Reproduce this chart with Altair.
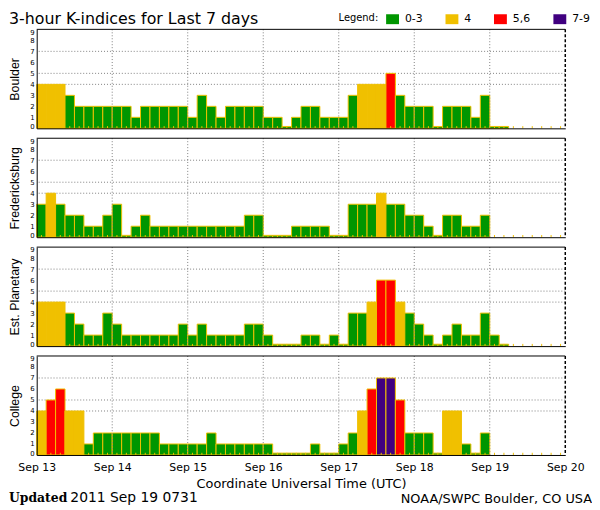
import json
import altair as alt
import pandas as pd

# ---------------- data ----------------
TITLE = "3-hour K-indices for Last 7 days"
STATIONS = ["Boulder", "Fredericksburg", "Est. Planetary", "College"]
BOULDER = [4, 4, 4, 3, 2, 2, 2, 2,
           2, 2, 1, 2, 2, 2, 2, 2,
           1, 3, 2, 1, 2, 2, 2, 2,
           1, 1, 0, 1, 2, 2, 1, 1,
           1, 3, 4, 4, 4, 5, 3, 2,
           2, 2, 0, 2, 2, 2, 1, 3,
           0, 0]
FREDERICKSBURG = [3, 4, 3, 2, 2, 1, 1, 2,
                  3, 0, 1, 2, 1, 1, 1, 1,
                  1, 1, 1, 1, 1, 1, 2, 2,
                  0, 0, 0, 1, 1, 1, 1, 0,
                  0, 3, 3, 3, 4, 3, 3, 2,
                  2, 1, 0, 2, 2, 1, 1, 2]
EST_PLANETARY = [4, 4, 4, 3, 2, 1, 1, 3,
                 2, 1, 1, 1, 1, 1, 1, 2,
                 1, 2, 1, 1, 1, 1, 2, 2,
                 1, 0, 0, 0, 1, 1, 0, 1,
                 0, 3, 3, 4, 6, 6, 4, 3,
                 2, 1, 0, 1, 2, 1, 1, 3,
                 1, 0]
COLLEGE = [4, 5, 6, 4, 4, 1, 2, 2,
           2, 2, 2, 2, 2, 1, 1, 1,
           1, 1, 2, 1, 1, 1, 1, 1,
           1, 0, 0, 0, 0, 1, 0, 0,
           1, 2, 4, 6, 7, 7, 5, 2,
           2, 2, 0, 4, 4, 1, 0, 2]
SERIES = [BOULDER, FREDERICKSBURG, EST_PLANETARY, COLLEGE]
DAY_LABELS = ["Sep 13", "Sep 14", "Sep 15", "Sep 16", "Sep 17", "Sep 18", "Sep 19", "Sep 20"]
Y_TICKS = [0, 1, 2, 3, 4, 5, 6, 7, 8, 9]
GRID_LEVELS = [4, 5, 7]
CATEGORIES = ["0-3", "4", "5,6", "7-9"]
CAT_COLORS = ["#009600", "#F0C000", "#FF0000", "#400080"]
LEGEND_TITLE = "Legend:"
X_TITLE = "Coordinate Universal Time (UTC)"
UPDATED_WORD = "Updated"
UPDATED_STAMP = "2011 Sep 19 0731"
CREDIT = "NOAA/SWPC Boulder, CO USA"

# ---------------- layout / style ----------------
SANS = "DejaVu Sans"
TSANS = "Liberation Sans"
SERIF = "DejaVu Serif"
OUTLINE = "#F0C000"
GRIDC = "#808080"
W, H, GAP = 534, 100, 10
HOURS_PER_SLOT = 3
N_DAYS = len(DAY_LABELS) - 1
HOURS = N_DAYS * 24
N_SLOTS = HOURS // HOURS_PER_SLOT

xs = alt.Scale(domain=[0, HOURS], nice=False, zero=False)
ys = alt.Scale(domain=[0, Y_TICKS[-1]], nice=False)
cs = alt.Scale(domain=CATEGORIES, range=CAT_COLORS)

one_row = pd.DataFrame({"v": [0]})
slot_centers = pd.DataFrame({"c": [HOURS_PER_SLOT * (i + 0.5) for i in range(N_SLOTS)]})
day_lines = pd.DataFrame({"d": [24 * i for i in range(1, N_DAYS)]})
grid_df = pd.DataFrame({"g": GRID_LEVELS})


def panel(name, vals, first, last):
    df = pd.DataFrame({"slot": list(range(len(vals))), "k": vals})
    yaxis = alt.Axis(values=Y_TICKS, title=name, titleFont=TSANS, titleFontSize=12.5,
                     titleFontWeight="normal", titleColor="black", titlePadding=8.5,
                     labelFont=SANS, labelFontSize=7, labelColor="black", labelPadding=2.5,
                     labelFlush=True, labelFlushOffset=1.1, labelOverlap=False,
                     ticks=False, grid=False, domainColor="black", domainWidth=1, zindex=1)
    if last:
        xaxis = alt.Axis(values=[24 * i for i in range(len(DAY_LABELS))],
                         labelExpr=f"{json.dumps(DAY_LABELS)}[round(datum.value / 24)]",
                         labelFont=SANS, labelFontSize=11, labelColor="black", labelPadding=6.5,
                         labelFlush=False, labelOverlap=False, labelBound=False,
                         ticks=False, grid=False, domainColor="black", zindex=1,
                         title=X_TITLE, titleFont=SANS, titleFontSize=13,
                         titleFontWeight="normal", titleColor="black", titlePadding=5)
    else:
        xaxis = alt.Axis(labels=False, ticks=False, grid=False, domainColor="black",
                         title=None, zindex=1)
    if first:
        legend = alt.Legend(orient="none", legendX=305, legendY=-17, direction="horizontal",
                            title=LEGEND_TITLE, titleOrient="left", titleFont=SANS,
                            titleFontSize=10, titleFontWeight="normal", titleColor="black",
                            titlePadding=7,
                            symbolType="M-1,-0.77L1,-0.77L1,0.77L-1,0.77Z", symbolSize=169,
                            symbolStrokeWidth=0, symbolOpacity=1,
                            labelFont=SANS, labelFontSize=11, labelColor="black",
                            labelOffset=6, columnPadding=23, padding=0)
    else:
        legend = None

    hgrid = alt.Chart(grid_df).mark_rule(color=GRIDC, strokeDash=[1, 2], strokeWidth=1).encode(
        y=alt.Y("g:Q", scale=ys, axis=None))
    bars = alt.Chart(df).transform_calculate(
        x0=f"datum.slot * {HOURS_PER_SLOT}",
        x1=f"datum.slot * {HOURS_PER_SLOT} + {HOURS_PER_SLOT}",
        kv="max(datum.k, 0.17)",
        cat="datum.k <= 3 ? '0-3' : datum.k == 4 ? '4' : datum.k <= 6 ? '5,6' : '7-9'",
    ).mark_rect(stroke=OUTLINE, strokeWidth=1).encode(
        x=alt.X("x0:Q", scale=xs, axis=xaxis),
        x2="x1:Q",
        y=alt.Y("kv:Q", scale=ys, axis=yaxis),
        y2=alt.datum(0),
        color=alt.Color("cat:N", scale=cs, legend=legend),
    )
    ticks = alt.Chart(slot_centers).mark_rule(color=OUTLINE, strokeWidth=1).encode(
        x=alt.X("c:Q", scale=xs, axis=None),
        y=alt.YDatum(datum=0, scale=ys, axis=None), y2=alt.datum(0.2))
    vgrid = alt.Chart(day_lines).mark_rule(color=GRIDC, strokeDash=[1, 2], strokeWidth=1).encode(
        x=alt.X("d:Q", scale=xs, axis=None))
    top = alt.Chart(one_row).mark_rule(color="black", strokeWidth=1).encode(
        y=alt.YDatum(datum=Y_TICKS[-1], scale=ys, axis=None))
    right = alt.Chart(one_row).mark_rule(color="black", strokeWidth=1.5, strokeDash=[3, 2]).encode(
        x=alt.XDatum(datum=HOURS, scale=xs, axis=None))
    layers = [hgrid, bars, ticks, vgrid, top, right]
    if first:
        layers.append(
            alt.Chart(pd.DataFrame({"t": [TITLE]})).mark_text(
                align="left", baseline="alphabetic", font=SANS, fontSize=16, color="black"
            ).encode(x=alt.value(-28), y=alt.value(-5.5), text="t:N"))
    if last:
        layers.append(
            alt.Chart(pd.DataFrame({"t": [UPDATED_WORD]})).mark_text(
                align="left", baseline="alphabetic", font=SERIF, fontSize=12.5,
                fontWeight="bold", color="black"
            ).encode(x=alt.value(-28), y=alt.value(H + 47.5), text="t:N"))
        layers.append(
            alt.Chart(pd.DataFrame({"t": [UPDATED_STAMP]})).mark_text(
                align="left", baseline="alphabetic", font=SANS, fontSize=14, color="black"
            ).encode(x=alt.value(34), y=alt.value(H + 47.5), text="t:N"))
        layers.append(
            alt.Chart(pd.DataFrame({"t": [CREDIT]})).mark_text(
                align="right", baseline="alphabetic", font=SANS, fontSize=13, color="black"
            ).encode(x=alt.value(561), y=alt.value(H + 48.5), text="t:N"))
    return alt.layer(*layers).resolve_axis(x="independent", y="independent").properties(
        width=W, height=H)


panels = [panel(n, v, i == 0, i == len(STATIONS) - 1)
          for i, (n, v) in enumerate(zip(STATIONS, SERIES))]

chart = alt.vconcat(*panels, spacing=GAP, bounds="flush").resolve_scale(
    color="independent").resolve_legend(color="independent").properties(
    padding=0).configure_view(stroke=None)

chart.save("out.html", embed_options={"renderer": "svg", "actions": False})
